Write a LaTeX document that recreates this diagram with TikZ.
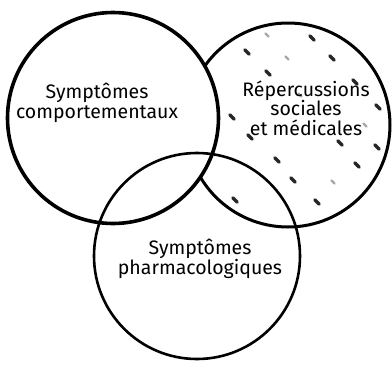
\documentclass[tikz,border=0pt]{standalone}
\usepackage{fontspec}
\setmainfont{Fira Sans}
\begin{document}
\begin{tikzpicture}[x=1pt,y=-1pt,
  ring/.style={draw=black,fill=white},
  lab/.style={align=center,font=\fontsize{19.5}{19.5}\selectfont,inner sep=0pt},
  speck/.style={line width=3.4pt,line cap=round,black!85},
  fspeck/.style={line width=2.4pt,line cap=round,black!35}]
\useasboundingbox (0,0) rectangle (392,365);
% right circle with speckle pattern
\node[ring,circle,minimum size=204pt,line width=3pt] (R) at (288,125) {};
\begin{scope}
\clip (288,125) circle (100pt);
\foreach \px/\py in {312/38,348/40,247/52,332/58,372/63,268/73,355/82,378/107,232/117,250/137,340/143,377/147,277/160,357/165,293/180,235/200,317/202}
  \draw[speck] (\px-2.2,\py-2.2) -- (\px+2.2,\py+2.2);
\foreach \px/\py in {267/35,287/58,333/182,300/95,365/125}
  \draw[fspeck] (\px-1.5,\py-1.5) -- (\px+1.5,\py+1.5);
\end{scope}
% left circle
\node[ring,circle,minimum size=211pt,line width=3.6pt] (L) at (113,118) {};
% bottom circle (outline only, drawn on top)
\node[draw=black,circle,minimum size=206pt,line width=2.6pt] (B) at (197,256) {};
% labels
\node[lab] (tL) at (97,103) {Symptômes\\comportementaux};
\node[lab] (tR) at (306,108) {Répercussions\\sociales\\et médicales};
\node[lab] (tB) at (200,259) {Symptômes\\pharmacologiques};
\end{tikzpicture}
\end{document}
